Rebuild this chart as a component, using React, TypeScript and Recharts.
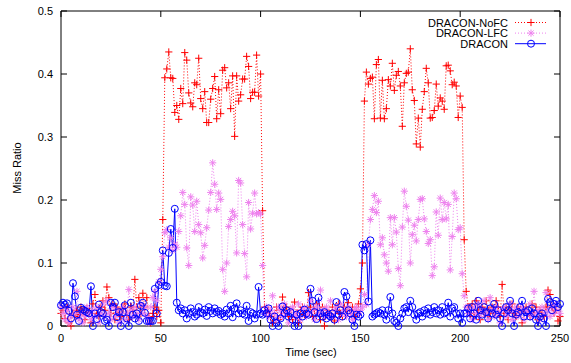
import { LineChart, Line, XAxis, YAxis, ReferenceLine, ReferenceArea } from "recharts";

// one sample per second, 0..250
const times = Array.from({ length: 251 }, (_, i) => i);

const xTicks = [0, 50, 100, 150, 200, 250];
const yTicks = [0, 0.1, 0.2, 0.3, 0.4, 0.5];

const noFC = [
  0.02, 0.025, 0.012, 0.03, 0.005, 0.0, 0.02, 0.015, 0.025, 0.018,
  0.03, 0.022, 0.01, 0.028, 0.02, 0.005, 0.035, 0.05, 0.02, 0.015,
  0.03, 0.04, 0.025, 0.062, 0.045, 0.02, 0.035, 0.01, 0.03, 0.022,
  0.015, 0.028, 0.035, 0.02, 0.01, 0.03, 0.025, 0.074, 0.03, 0.045,
  0.02, 0.052, 0.03, 0.045, 0.015, 0.005, 0.02, 0.03, 0.015, 0.025,
  0.005, 0.169, 0.394, 0.408, 0.435, 0.394, 0.393, 0.339, 0.35, 0.328,
  0.377, 0.353, 0.434, 0.422, 0.37, 0.354, 0.348, 0.386, 0.383, 0.425,
  0.361, 0.345, 0.372, 0.323, 0.323, 0.36, 0.377, 0.396, 0.329, 0.375,
  0.337, 0.406, 0.41, 0.378, 0.386, 0.345, 0.397, 0.301, 0.397, 0.357,
  0.367, 0.392, 0.392, 0.428, 0.412, 0.361, 0.371, 0.371, 0.43, 0.365,
  0.4, 0.183, 0.03, 0.02, 0.025, 0.015, 0.005, 0.02, 0.03, 0.01,
  0.025, 0.046, 0.02, 0.03, 0.015, 0.025, 0.01, 0.038, 0.02, 0.005,
  0.025, 0.03, 0.018, 0.02, 0.053, 0.03, 0.015, 0.025, 0.035, 0.02,
  0.01, 0.03, 0.0, 0.025, 0.02, 0.015, 0.03, 0.008, 0.025, 0.035,
  0.02, 0.015, 0.03, 0.025, 0.037, 0.02, 0.03, 0.015, 0.025, 0.035,
  0.059, 0.1, 0.357, 0.403, 0.384, 0.393, 0.395, 0.329, 0.415, 0.423,
  0.33, 0.39, 0.329, 0.345, 0.391, 0.381, 0.417, 0.374, 0.398, 0.404,
  0.381, 0.317, 0.386, 0.401, 0.403, 0.44, 0.375, 0.358, 0.289, 0.33,
  0.284, 0.344, 0.372, 0.409, 0.386, 0.33, 0.331, 0.342, 0.384, 0.349,
  0.362, 0.357, 0.344, 0.413, 0.414, 0.405, 0.383, 0.387, 0.381, 0.331,
  0.365, 0.347, 0.137, 0.055, 0.03, 0.02, 0.035, 0.015, 0.04, 0.025,
  0.01, 0.03, 0.02, 0.04, 0.025, 0.015, 0.03, 0.02, 0.04, 0.03,
  0.015, 0.066, 0.02, 0.03, 0.01, 0.025, 0.035, 0.02, 0.015, 0.03,
  0.02, 0.005, 0.025, 0.03, 0.02, 0.015, 0.035, 0.02, 0.03, 0.01,
  0.025, 0.02, 0.015, 0.03, 0.057, 0.05, 0.03, 0.02, 0.025, 0.008,
  0.015,
];

const lfc = [
  0.03, 0.02, 0.01, 0.025, 0.005, 0.015, 0.03, 0.02, 0.055, 0.01,
  0.02, 0.005, 0.015, 0.03, 0.02, 0.01, 0.025, 0.015, 0.03, 0.005,
  0.02, 0.035, 0.015, 0.04, 0.02, 0.01, 0.03, 0.015, 0.025, 0.005,
  0.02, 0.03, 0.01, 0.02, 0.058, 0.025, 0.015, 0.03, 0.02, 0.01,
  0.035, 0.02, 0.03, 0.015, 0.005, 0.03, 0.045, 0.055, 0.04, 0.07,
  0.09, 0.11, 0.148, 0.153, 0.125, 0.14, 0.12, 0.13, 0.125, 0.15,
  0.175, 0.212, 0.193, 0.124, 0.096, 0.205, 0.192, 0.15, 0.198, 0.161,
  0.148, 0.108, 0.128, 0.156, 0.184, 0.212, 0.259, 0.225, 0.185, 0.211,
  0.201, 0.09, 0.055, 0.1, 0.158, 0.169, 0.182, 0.175, 0.116, 0.231,
  0.227, 0.161, 0.115, 0.078, 0.196, 0.154, 0.179, 0.211, 0.178, 0.18,
  0.178, 0.096, 0.02, 0.03, 0.015, 0.025, 0.048, 0.02, 0.01, 0.03,
  0.025, 0.015, 0.035, 0.02, 0.005, 0.025, 0.03, 0.015, 0.02, 0.035,
  0.01, 0.025, 0.03, 0.015, 0.02, 0.04, 0.025, 0.01, 0.03, 0.02,
  0.057, 0.025, 0.015, 0.03, 0.02, 0.04, 0.015, 0.025, 0.03, 0.01,
  0.035, 0.02, 0.025, 0.015, 0.03, 0.02, 0.01, 0.025, 0.03, 0.02,
  0.025, 0.03, 0.05, 0.034, 0.13, 0.169, 0.185, 0.207, 0.18, 0.198,
  0.129, 0.14, 0.113, 0.1, 0.087, 0.172, 0.129, 0.172, 0.149, 0.091,
  0.064, 0.157, 0.214, 0.19, 0.168, 0.1, 0.145, 0.16, 0.135, 0.169,
  0.201, 0.202, 0.17, 0.15, 0.131, 0.137, 0.08, 0.094, 0.181, 0.144,
  0.203, 0.169, 0.196, 0.17, 0.193, 0.089, 0.142, 0.211, 0.202, 0.153,
  0.156, 0.083, 0.048, 0.03, 0.02, 0.025, 0.01, 0.03, 0.02, 0.035,
  0.015, 0.025, 0.04, 0.02, 0.01, 0.045, 0.025, 0.015, 0.03, 0.02,
  0.005, 0.025, 0.03, 0.015, 0.02, 0.035, 0.01, 0.025, 0.03, 0.015,
  0.02, 0.03, 0.01, 0.025, 0.02, 0.035, 0.015, 0.055, 0.02, 0.025,
  0.01, 0.03, 0.02, 0.053, 0.025, 0.015, 0.03, 0.02, 0.035, 0.025,
  0.02,
];

const dracon = [
  0.033, 0.037, 0.034, 0.036, 0.024, 0.012, 0.068, 0.047, 0.018, 0.008,
  0.029, 0.026, 0.024, 0.022, 0.02, 0.063, 0.0, 0.02, 0.011, 0.034,
  0.022, 0.02, 0.008, 0.01, 0.0, 0.037, 0.03, 0.037, 0.014, 0.022,
  0.0, 0.022, 0.033, 0.012, 0.0, 0.037, 0.018, 0.012, 0.02, 0.008,
  0.032, 0.037, 0.021, 0.008, 0.008, 0.008, 0.008, 0.059, 0.02, 0.065,
  0.07, 0.12, 0.064, 0.063, 0.116, 0.154, 0.124, 0.186, 0.037, 0.025,
  0.028, 0.02, 0.025, 0.012, 0.02, 0.028, 0.022, 0.015, 0.018, 0.03,
  0.022, 0.02, 0.026, 0.016, 0.03, 0.024, 0.02, 0.028, 0.022, 0.024,
  0.018, 0.02, 0.015, 0.026, 0.02, 0.032, 0.014, 0.028, 0.036, 0.02,
  0.025, 0.02, 0.018, 0.032, 0.008, 0.022, 0.02, 0.012, 0.018, 0.062,
  0.02, 0.018, 0.025, 0.02, 0.028, 0.01, 0.0, 0.015, 0.005, 0.0,
  0.012, 0.031, 0.02, 0.025, 0.015, 0.022, 0.01, 0.0, 0.018, 0.0,
  0.02, 0.015, 0.026, 0.02, 0.018, 0.059, 0.04, 0.022, 0.011, 0.045,
  0.02, 0.015, 0.022, 0.012, 0.018, 0.015, 0.02, 0.01, 0.038, 0.018,
  0.025, 0.015, 0.054, 0.047, 0.025, 0.02, 0.01, 0.0, 0.018, 0.015,
  0.018, 0.129, 0.12, 0.13, 0.039, 0.136, 0.015, 0.018, 0.02, 0.022,
  0.02, 0.025, 0.018, 0.01, 0.025, 0.046, 0.02, 0.008, 0.005, 0.0,
  0.012, 0.02, 0.028, 0.03, 0.022, 0.04, 0.03, 0.018, 0.01, 0.02,
  0.022, 0.015, 0.025, 0.02, 0.028, 0.018, 0.022, 0.03, 0.02, 0.025,
  0.018, 0.03, 0.02, 0.022, 0.037, 0.015, 0.028, 0.03, 0.02, 0.012,
  0.02, 0.005, 0.02, 0.02, 0.028, 0.012, 0.03, 0.02, 0.01, 0.04,
  0.025, 0.018, 0.03, 0.022, 0.012, 0.028, 0.02, 0.035, 0.018, 0.025,
  0.012, 0.0, 0.02, 0.03, 0.025, 0.04, 0.02, 0.0, 0.018, 0.022,
  0.03, 0.04, 0.015, 0.022, 0.025, 0.015, 0.028, 0.02, 0.01, 0.0,
  0.015, 0.02, 0.012, 0.0, 0.043, 0.038, 0.025, 0.035, 0.04, 0.03,
  0.035,
];

const FONT = "'Liberation Sans', Arial, Helvetica, sans-serif";

type Marker = "plus" | "star" | "circle";

interface Series {
  key: string;
  name: string;
  color: string;
  dash?: string;
  marker: Marker;
}

const series: Series[] = [
  { key: "noFC", name: "DRACON-NoFC", color: "#ff0000", dash: "1 2", marker: "plus" },
  { key: "lfc", name: "DRACON-LFC", color: "#ee82ee", dash: "1 2", marker: "star" },
  { key: "dracon", name: "DRACON", color: "#0000ff", marker: "circle" },
];

const data = times.map((t, i) => ({
  t,
  noFC: noFC[i],
  lfc: lfc[i],
  dracon: dracon[i],
}));

function MarkerShape({ kind, cx, cy, color }: { kind: Marker; cx: number; cy: number; color: string }) {
  const a = 3.6;
  if (kind === "plus") {
    return <path d={`M${cx - a},${cy}h${2 * a}M${cx},${cy - a}v${2 * a}`} stroke={color} strokeWidth={1} fill="none" />;
  }
  if (kind === "star") {
    const d = 2.6;
    return (
      <path
        d={`M${cx - a},${cy}h${2 * a}M${cx},${cy - a}v${2 * a}M${cx - d},${cy - d}l${2 * d},${2 * d}M${cx - d},${cy + d}l${2 * d},${-2 * d}`}
        stroke={color}
        strokeWidth={1}
        fill="none"
      />
    );
  }
  return <circle cx={cx} cy={cy} r={3.5} stroke={color} strokeWidth={1} fill="none" />;
}

const makeDot = (s: Series) => (p: any) => {
  if (p.cx == null || p.cy == null) return <g key={`${s.key}-${p.index}`} />;
  return (
    <g key={`${s.key}-${p.index}`}>
      <MarkerShape kind={s.marker} cx={p.cx} cy={p.cy} color={s.color} />
    </g>
  );
};

const tickStyle = { fontSize: 11, fill: "#000", fontFamily: FONT };

export default function App() {
  return (
    <div style={{ position: "relative", width: 571, height: 363, background: "#fff" }}>
      <style>{"body{margin:0;}"}</style>
      <LineChart
        width={571}
        height={363}
        data={data}
        margin={{ top: 11, right: 11, left: 6, bottom: 7 }}
      >
        <XAxis
          dataKey="t"
          type="number"
          domain={[0, 250]}
          ticks={xTicks}
          axisLine={false}
          tickLine={false}
          tickSize={0}
          tickMargin={8}
          height={30}
          tick={tickStyle}
        />
        <YAxis
          type="number"
          domain={[0, 0.5]}
          ticks={yTicks}
          axisLine={false}
          tickLine={false}
          tickSize={0}
          tickMargin={8}
          width={55}
          tick={tickStyle}
          tickFormatter={(v: number) => String(v)}
        />
        <ReferenceArea x1={0} x2={250} y1={0} y2={0.5} fill="none" fillOpacity={0} stroke="#000" strokeWidth={1} />
        {xTicks.map((x) => (
          <ReferenceLine key={`xb${x}`} segment={[{ x, y: 0 }, { x, y: 0.0095 }]} stroke="#000" />
        ))}
        {xTicks.map((x) => (
          <ReferenceLine key={`xt${x}`} segment={[{ x, y: 0.5 }, { x, y: 0.4905 }]} stroke="#000" />
        ))}
        {yTicks.map((y) => (
          <ReferenceLine key={`yl${y}`} segment={[{ x: 0, y }, { x: 3, y }]} stroke="#000" />
        ))}
        {yTicks.map((y) => (
          <ReferenceLine key={`yr${y}`} segment={[{ x: 250, y }, { x: 247, y }]} stroke="#000" />
        ))}
        {series.map((s) => (
          <Line
            key={s.key}
            type="linear"
            dataKey={s.key}
            name={s.name}
            stroke={s.color}
            strokeWidth={1}
            strokeDasharray={s.dash}
            dot={makeDot(s)}
            activeDot={false}
            isAnimationActive={false}
          />
        ))}
      </LineChart>
      <svg
        width={571}
        height={363}
        style={{ position: "absolute", left: 0, top: 0, pointerEvents: "none" }}
      >
        <text
          x={17}
          y={168}
          transform="rotate(-90 17 168)"
          textAnchor="middle"
          dominantBaseline="central"
          fontSize={11}
          fontFamily={FONT}
        >
          Miss Ratio
        </text>
        <text x={311} y={352} textAnchor="middle" dominantBaseline="central" fontSize={11} fontFamily={FONT}>
          Time (sec)
        </text>
        {series.map((s, i) => {
          const y = 22.5 + i * 10.6;
          return (
            <g key={s.key}>
              <text x={508} y={y} textAnchor="end" dominantBaseline="central" fontSize={11} fontFamily={FONT}>
                {s.name}
              </text>
              <line x1={515} x2={546} y1={y} y2={y} stroke={s.color} strokeDasharray={s.dash} />
              <MarkerShape kind={s.marker} cx={531} cy={y} color={s.color} />
            </g>
          );
        })}
      </svg>
    </div>
  );
}
